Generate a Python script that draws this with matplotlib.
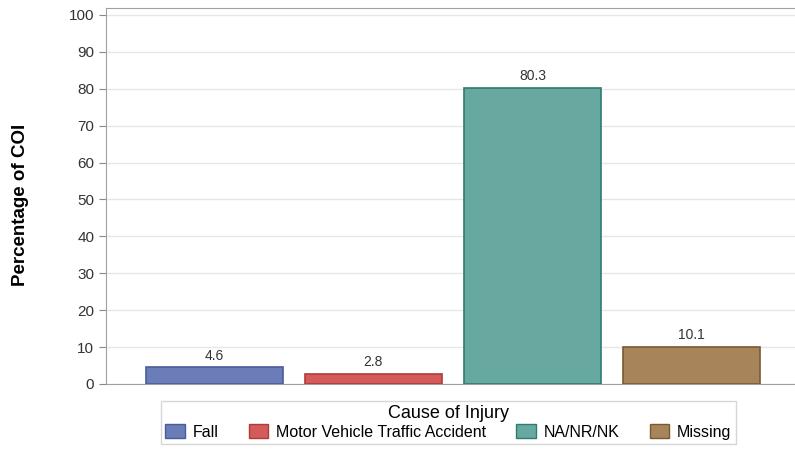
import matplotlib
matplotlib.use("Agg")
import matplotlib.pyplot as plt
from matplotlib.patches import Patch

categories = ["Fall", "Motor Vehicle Traffic Accident", "NA/NR/NK", "Missing"]
values = [4.6, 2.8, 80.3, 10.1]
labels = ["4.6", "2.8", "80.3", "10.1"]
yticks = [0, 10, 20, 30, 40, 50, 60, 70, 80, 90, 100]

colors = ["#6B7DB8", "#D35B5B", "#67A9A0", "#A8845A"]
edges = ["#4A5C9A", "#B03A3A", "#2E7C70", "#7A5A30"]

plt.rcParams['font.family'] = ['Liberation Sans', 'DejaVu Sans']
fig = plt.figure(figsize=(7.95, 4.5), dpi=100)
ax = fig.add_axes([0.1333, 0.1467, 0.8667, 0.8356])

x = list(range(len(categories)))
ax.bar(x, values, width=0.86, color=colors, edgecolor=edges, linewidth=1.2, zorder=3)
for xi, v, lab in zip(x, values, labels):
    ax.text(xi, v + 1.2, lab, ha='center', va='bottom', fontsize=10, color='#333333', zorder=4)

ax.set_xlim(-0.68, 3.65)
ax.set_ylim(0, 101.9)
ax.set_yticks(yticks)
ax.set_xticks([])
ax.tick_params(axis='y', labelsize=11, colors='#333333', length=5, color='#888888')
ax.yaxis.grid(True, color='#E6E6E6', linewidth=1, zorder=0)
for s in ['left', 'top', 'bottom']:
    ax.spines[s].set_color('#A0A0A0')
ax.spines['right'].set_visible(False)
ax.set_ylabel("Percentage of COI", fontsize=13.5, fontweight='bold')
ax.yaxis.set_label_coords(-0.112, 0.476)

handles = [Patch(facecolor=c, edgecolor=e, label=l) for c, e, l in zip(colors, edges, categories)]
leg = fig.legend(handles=handles, loc='center', bbox_to_anchor=(0.564, 0.0611), ncol=4,
                 title="Cause of Injury", title_fontsize=13, fontsize=11.5,
                 frameon=True, fancybox=False, edgecolor='#CCCCCC',
                 handlelength=1.2, handleheight=1.0, handletextpad=0.5, columnspacing=1.9,
                 borderpad=0.3, labelspacing=0.1)
leg.get_frame().set_linewidth(1.0)

fig.savefig("out.png", dpi=100)
